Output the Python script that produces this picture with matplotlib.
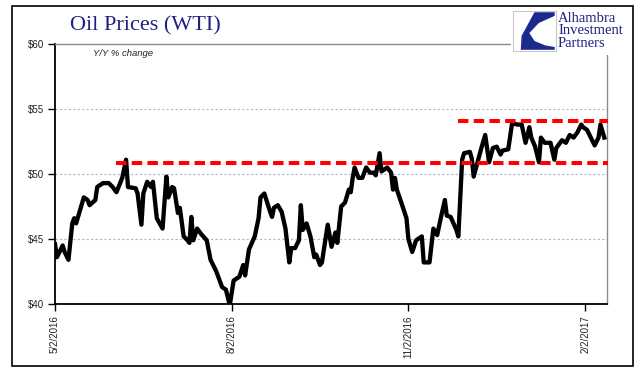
import matplotlib
matplotlib.use("Agg")
import matplotlib.pyplot as plt
import matplotlib.ticker as mtick
from matplotlib.patches import Rectangle, Polygon
import pandas as pd

# WTI price
dates = [
    "2016-05-02", "2016-05-03", "2016-05-06", "2016-05-07", "2016-05-09", "2016-05-11",
    "2016-05-12", "2016-05-13", "2016-05-17", "2016-05-19", "2016-05-20", "2016-05-23",
    "2016-05-24", "2016-05-27", "2016-05-30", "2016-06-01", "2016-06-03", "2016-06-06",
    "2016-06-08", "2016-06-09", "2016-06-13", "2016-06-14", "2016-06-16", "2016-06-17",
    "2016-06-19", "2016-06-21", "2016-06-22", "2016-06-24", "2016-06-27", "2016-06-29",
    "2016-06-30", "2016-07-02", "2016-07-03", "2016-07-05", "2016-07-06", "2016-07-08",
    "2016-07-10", "2016-07-11", "2016-07-12", "2016-07-13", "2016-07-15", "2016-07-17",
    "2016-07-20", "2016-07-22", "2016-07-25", "2016-07-27", "2016-07-28", "2016-07-30",
    "2016-08-01", "2016-08-03", "2016-08-06", "2016-08-08", "2016-08-09", "2016-08-11",
    "2016-08-14", "2016-08-16", "2016-08-17", "2016-08-19", "2016-08-22", "2016-08-23",
    "2016-08-24", "2016-08-26", "2016-08-28", "2016-08-30", "2016-09-01", "2016-09-02",
    "2016-09-04", "2016-09-06", "2016-09-07", "2016-09-08", "2016-09-10", "2016-09-12",
    "2016-09-14", "2016-09-15", "2016-09-17", "2016-09-18", "2016-09-19", "2016-09-21",
    "2016-09-23", "2016-09-25", "2016-09-26", "2016-09-28", "2016-09-30", "2016-10-02",
    "2016-10-03", "2016-10-04", "2016-10-05", "2016-10-07", "2016-10-09", "2016-10-10",
    "2016-10-11", "2016-10-13", "2016-10-15", "2016-10-16", "2016-10-18", "2016-10-19",
    "2016-10-22", "2016-10-24", "2016-10-25", "2016-10-26", "2016-10-27", "2016-10-30",
    "2016-11-01", "2016-11-02", "2016-11-04", "2016-11-06", "2016-11-09", "2016-11-10",
    "2016-11-13", "2016-11-15", "2016-11-17", "2016-11-19", "2016-11-21", "2016-11-22",
    "2016-11-24", "2016-11-27", "2016-11-28", "2016-11-30", "2016-12-01", "2016-12-04",
    "2016-12-05", "2016-12-06", "2016-12-08", "2016-12-10", "2016-12-12", "2016-12-14",
    "2016-12-16", "2016-12-18", "2016-12-20", "2016-12-21", "2016-12-24", "2016-12-26",
    "2016-12-29", "2016-12-31", "2017-01-02", "2017-01-04", "2017-01-05", "2017-01-07",
    "2017-01-09", "2017-01-10", "2017-01-12", "2017-01-15", "2017-01-17", "2017-01-18",
    "2017-01-21", "2017-01-23", "2017-01-25", "2017-01-27", "2017-01-29", "2017-01-31",
    "2017-02-01", "2017-02-03", "2017-02-05", "2017-02-07", "2017-02-09", "2017-02-10",
    "2017-02-12",
]
prices = [
    44.6, 43.6, 44.5, 44.0, 43.4, 46.2,
    46.6, 46.2, 48.2, 48.0, 47.6, 48.0,
    49.0, 49.3, 49.3, 49.0, 48.6, 49.7,
    51.1, 49.0, 48.9, 48.5, 46.1, 48.5,
    49.4, 49.0, 49.4, 46.6, 45.8, 49.8,
    48.2, 49.0, 48.9, 47.0, 47.4, 45.2,
    44.9, 44.7, 46.7, 44.9, 45.8, 45.4,
    44.9, 43.4, 42.5, 41.7, 41.3, 41.1,
    39.9, 41.8, 42.1, 43.0, 42.2, 44.2,
    45.2, 46.6, 48.2, 48.5, 47.1, 46.7,
    47.4, 47.6, 47.1, 45.8, 43.2, 44.3,
    44.3, 44.9, 47.6, 45.7, 46.2, 45.2,
    43.6, 43.8, 43.0, 43.2, 44.2, 46.1,
    44.4, 45.5, 44.7, 47.5, 47.8, 48.8,
    48.6, 49.7, 50.5, 49.7, 49.7, 50.1,
    50.5, 50.1, 50.1, 49.9, 51.6, 50.2,
    50.5, 50.1, 48.8, 49.7, 48.8, 47.5,
    46.6, 45.0, 44.0, 44.9, 45.2, 43.2,
    43.2, 45.8, 45.3, 46.7, 48.0, 46.8,
    46.7, 45.7, 45.2, 51.1, 51.6, 51.7,
    51.2, 49.8, 50.9, 52.0, 53.0, 50.9,
    52.0, 52.1, 51.5, 51.8, 51.9, 53.9,
    53.8, 53.8, 52.4, 53.6, 52.8, 52.1,
    50.9, 52.8, 52.4, 52.4, 51.1, 52.0,
    52.6, 52.4, 53.0, 52.8, 53.2, 53.8,
    53.6, 53.4, 52.8, 52.2, 52.8, 53.8,
    52.8,
]

# red dashed reference levels: (level, start date)
level_low = 50.85
level_low_start = "2016-06-03"
level_high = 54.1
level_high_start = "2016-11-28"
level_end = "2017-02-14"

tick_dates = ["2016-05-02", "2016-08-02", "2016-11-02", "2017-02-02"]
tick_labels = ["5/2/2016", "8/2/2016", "11/2/2016", "2/2/2017"]
y_ticks = [40, 45, 50, 55, 60]

navy = "#1f2083"

fig = plt.figure(figsize=(6.41, 3.81), dpi=100)
ax = fig.add_axes([55 / 641, 1 - 304 / 381, 552 / 641, 260 / 381])

x = pd.to_datetime(dates)
ax.plot(x, prices, color="black", linewidth=3.1, solid_joinstyle="round", zorder=3)

# horizontal red dashed lines
for lvl, start in [(level_low, level_low_start), (level_high, level_high_start)]:
    ax.plot(pd.to_datetime([start, level_end]), [lvl, lvl], color="#ff0000",
            linewidth=2.9, dashes=(2.6, 1.3), clip_on=False, zorder=4)

ax.set_ylim(40, 60)
ax.set_xlim(pd.Timestamp("2016-05-02"), pd.Timestamp("2017-02-13 10:00"))

ax.set_yticks(y_ticks)
ax.yaxis.set_major_formatter(mtick.FormatStrFormatter("$%d"))
ax.set_xticks(pd.to_datetime(tick_dates))
ax.set_xticklabels(tick_labels, rotation=90)
ax.tick_params(axis="both", direction="out", length=5, width=1, color="black",
               labelsize=7, pad=3)
for lab in ax.get_xticklabels() + ax.get_yticklabels():
    lab.set_family("Liberation Sans")
    lab.set_color("#222222")

# dashed grid for the inner levels only
for g in [45, 50, 55]:
    ax.axhline(g, color="#b5b5b5", linewidth=0.8, dashes=(2, 2), zorder=1)

ax.spines["left"].set_color("black")
ax.spines["left"].set_linewidth(1.3)
ax.spines["bottom"].set_color("black")
ax.spines["bottom"].set_linewidth(1.3)
ax.spines["top"].set_color("#8c8c8c")
ax.spines["top"].set_linewidth(1.0)
ax.spines["right"].set_color("#8c8c8c")
ax.spines["right"].set_linewidth(1.0)

# titles
fig.text(70 / 641, 1 - 26 / 381, "Oil Prices (WTI)", family="Liberation Serif",
         fontsize=16, color=navy, va="center", ha="left")
fig.text(93 / 641, 1 - 54 / 381, "Y/Y % change", family="Liberation Sans",
         style="italic", fontsize=6.8, color="#222222", va="center", ha="left")

# white patch behind the logo, hides the frame lines there
fig.patches.append(Rectangle((511 / 641, 1 - 55 / 381), 100 / 641, 47 / 381,
                             transform=fig.transFigure, facecolor="white",
                             edgecolor="none", zorder=5))

# logo mark
lax = fig.add_axes([513 / 641, 1 - 51 / 381, 43 / 641, 40 / 381], zorder=6)
lax.set_xlim(0, 1)
lax.set_ylim(1, 0)
lax.set_xticks([])
lax.set_yticks([])
for s in lax.spines.values():
    s.set_color("#c8c8c8")
    s.set_linewidth(0.8)
lax.add_patch(Polygon([(0.5, 0.03), (0.97, 0.03), (0.97, 0.12), (0.6, 0.3), (0.38, 0.55),
                       (0.5, 0.75), (0.75, 0.86), (0.97, 0.9), (0.97, 0.97), (0.18, 0.97),
                       (0.2, 0.62)], closed=True, facecolor="#1b2a8c", edgecolor="none"))

fig.text(558 / 641, 1 - 31 / 381, "Alhambra\nInvestment\nPartners", family="Liberation Serif",
         fontsize=10.5, color=navy, va="center", ha="left", linespacing=0.92, zorder=7)

# outer frame
fig.patches.append(Rectangle((12 / 641, 1 - 366 / 381), 621 / 641, 360 / 381,
                             transform=fig.transFigure, fill=False, edgecolor="black",
                             linewidth=1.2, zorder=8))

fig.savefig("out.png", dpi=100)
